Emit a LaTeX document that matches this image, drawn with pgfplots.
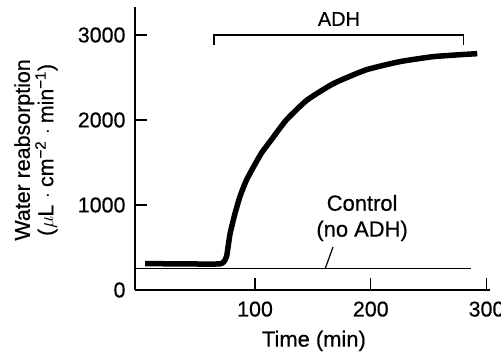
\documentclass[border=0pt]{standalone}
\usepackage{fontspec}
\setmainfont{Liberation Sans}[FakeBold=0.5]
\usepackage{pgfplots}
\pgfplotsset{compat=1.18}
\begin{document}
\begin{tikzpicture}
\useasboundingbox (-135bp,-73bp) rectangle (366bp,290bp);
\begin{axis}[
  at={(0,0)}, anchor=south west,
  scale only axis, width=355bp, height=283bp,
  xmin=-3.7, xmax=303, ymin=0, ymax=3329,
  axis lines=left,
  axis line style={line width=1.5bp,-},
  xtick pos=left, ytick pos=left, tick align=inside,
  xtick={100,200,300}, ytick={0,1000,2000,3000},
  major tick length=12bp,
  tick style={line width=1.2bp, black},
  /pgf/number format/assume math mode=true,
  /pgf/number format/1000 sep={},
  ticklabel style={font=\fontsize{21.5}{24}\selectfont},
  xticklabel style={yshift=-8bp},
  yticklabel style={xshift=-6bp},
  xlabel={Time (min)},
  xlabel style={font=\fontsize{22}{24}\selectfont, at={(axis description cs:0.504,-0.18)}, anchor=center},
  ylabel={Water reabsorption\\($\mu$L $\cdot$ cm\textsuperscript{−2} $\cdot$ min\textsuperscript{−1})},
  ylabel style={align=center, font=\fontsize{21.5}{23.5}\selectfont, at={(axis description cs:-0.279,0.495)}, anchor=center},
  clip=false,
]
% control (no ADH)
\addplot[black, line width=1.5bp] coordinates {(-3.7,250) (287,250)};
% ADH
\addplot[black, line width=5.5bp, line join=round, smooth, tension=0.3] coordinates {
  (5,310) (30,308) (60,305) (70,308) (73,330) (75.5,400) (78.4,660) (82.7,900)
  (87,1100) (92.5,1290) (100,1480) (106,1620) (114,1765) (127,2000) (145,2235)
  (168,2430) (196,2590) (225,2686) (254,2745) (283,2773) (292,2780)};
% ADH bracket
\addplot[black, line width=1.3bp] coordinates {(64.5,2880) (64.5,3000) (280,3000) (280,2880)};
% pointer
\addplot[black, line width=1.2bp] coordinates {(167.4,506) (160.5,247)};
\node[font=\fontsize{20}{24}\selectfont] at (axis cs:172.5,3188) {ADH};
\node[align=center, font=\fontsize{22}{26}\selectfont] at (axis cs:192.5,847) {Control\\(no ADH)};
\end{axis}
\end{tikzpicture}
\end{document}
